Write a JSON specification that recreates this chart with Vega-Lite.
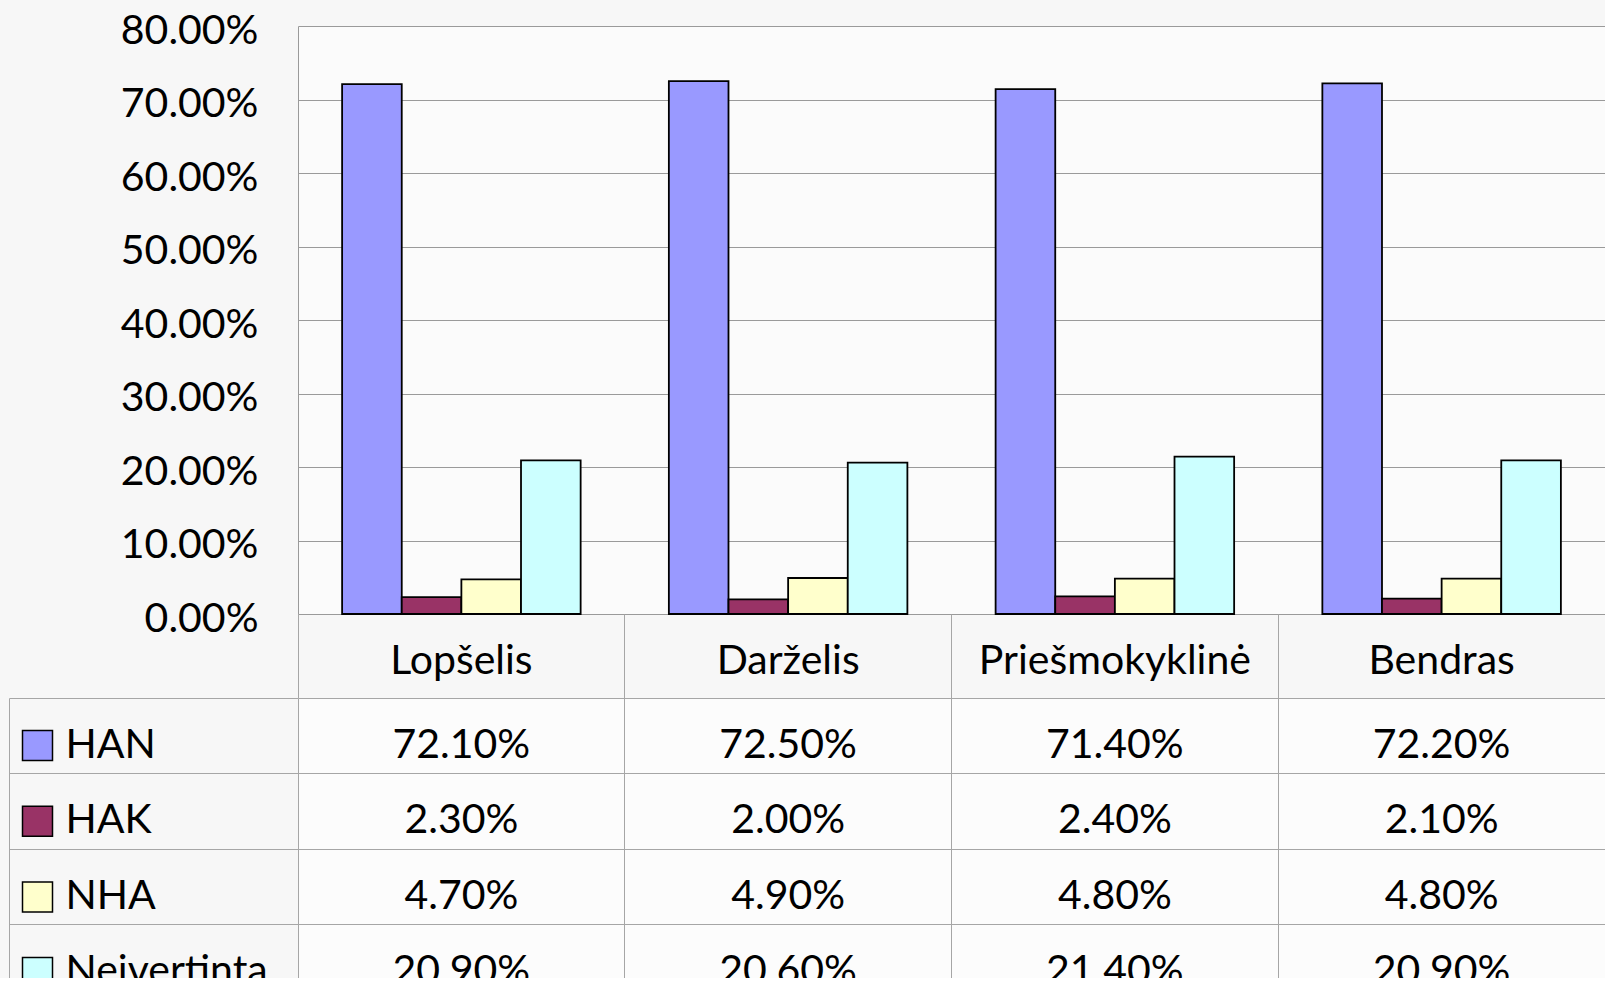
{
  "$schema": "https://vega.github.io/schema/vega-lite/v6.json",
  "background": "#f7f7f7",
  "padding": {"left": 8, "top": 10, "right": 0, "bottom": -22},
  "config": {"font": "Lato", "view": {"stroke": null}, "axis": {"labelFont": "Lato", "labelColor": "#000000"}},
  "datasets": {
    "d": [
      {"cat": "Lopšelis", "series": "HAN", "value": 0.721},
      {"cat": "Lopšelis", "series": "HAK", "value": 0.023},
      {"cat": "Lopšelis", "series": "NHA", "value": 0.047},
      {"cat": "Lopšelis", "series": "Neivertinta", "value": 0.209},
      {"cat": "Darželis", "series": "HAN", "value": 0.725},
      {"cat": "Darželis", "series": "HAK", "value": 0.020},
      {"cat": "Darželis", "series": "NHA", "value": 0.049},
      {"cat": "Darželis", "series": "Neivertinta", "value": 0.206},
      {"cat": "Priešmokyklinė", "series": "HAN", "value": 0.714},
      {"cat": "Priešmokyklinė", "series": "HAK", "value": 0.024},
      {"cat": "Priešmokyklinė", "series": "NHA", "value": 0.048},
      {"cat": "Priešmokyklinė", "series": "Neivertinta", "value": 0.214},
      {"cat": "Bendras", "series": "HAN", "value": 0.722},
      {"cat": "Bendras", "series": "HAK", "value": 0.021},
      {"cat": "Bendras", "series": "NHA", "value": 0.048},
      {"cat": "Bendras", "series": "Neivertinta", "value": 0.209}
    ]
  },
  "bounds": "flush",
  "spacing": 84,
  "resolve": {"scale": {"x": "independent", "y": "independent", "color": "independent"}},
  "vconcat": [
    {
      "data": {"name": "d"},
      "width": 1307,
      "height": 588,
      "view": {"stroke": null, "fill": "#fbfbfb"},
      "mark": {"type": "bar", "stroke": "#000000", "strokeWidth": 1.8},
      "encoding": {
        "x": {
          "field": "cat", "type": "nominal",
          "sort": ["Lopšelis", "Darželis", "Priešmokyklinė", "Bendras"],
          "scale": {"type": "band", "paddingInner": 0.27, "paddingOuter": 0.135},
          "axis": {"title": null, "orient": "bottom", "domain": false, "ticks": true, "bandPosition": -0.18493,
                   "tickSize": 84, "tickColor": "#a6a6a6", "tickWidth": 1, "grid": false,
                   "labelFontSize": 41, "labelAngle": 0, "labelBaseline": "middle", "labelPadding": -37,
                   "labelLimit": 700, "labelColor": "#000000"}
        },
        "xOffset": {"field": "series", "type": "nominal", "sort": ["HAN", "HAK", "NHA", "Neivertinta"]},
        "y": {
          "field": "value", "type": "quantitative",
          "scale": {"domain": [0, 0.8], "nice": false},
          "axis": {"title": null, "values": [0, 0.1, 0.2, 0.3, 0.4, 0.5, 0.6, 0.7, 0.8], "format": ".2%",
                   "labelFontSize": 41, "labelPadding": 40, "ticks": false, "domain": true,
                   "domainColor": "#9a9a9a", "gridColor": "#9a9a9a", "gridWidth": 1, "labelOffset": 5,
                   "labelFlush": false, "labelColor": "#000000"}
        },
        "color": {
          "field": "series", "type": "nominal",
          "scale": {"domain": ["HAN", "HAK", "NHA", "Neivertinta"], "range": ["#9999FF", "#993366", "#FFFFCC", "#CCFFFF"]},
          "legend": {"orient": "none", "legendX": -281, "legendY": 699, "title": null, "symbolType": "square",
                     "symbolSize": 900, "symbolStrokeColor": "#000000", "symbolStrokeWidth": 1.5,
                     "symbolOpacity": 1, "labelExpr": "''", "labelFontSize": 41, "rowPadding": 33.7,
                     "padding": 0, "offset": 0}
        }
      }
    },
    {
      "data": {"name": "d"},
      "width": 1307,
      "height": 302,
      "view": {"stroke": null, "fill": "#fcfcfc"},
      "mark": {"type": "text", "fontSize": 41, "dy": 10, "baseline": "middle", "color": "#000000"},
      "encoding": {
        "x": {
          "field": "cat", "type": "nominal",
          "sort": ["Lopšelis", "Darželis", "Priešmokyklinė", "Bendras"],
          "scale": {"type": "band", "paddingInner": 0, "paddingOuter": 0},
          "axis": {"title": null, "labels": false, "ticks": false, "domain": false, "grid": true,
                   "bandPosition": 0, "gridColor": "#a6a6a6", "gridWidth": 1}
        },
        "y": {
          "field": "series", "type": "nominal",
          "sort": ["HAN", "HAK", "NHA", "Neivertinta"],
          "scale": {"type": "band", "paddingInner": 0, "paddingOuter": 0},
          "axis": {"title": null, "orient": "left", "offset": 289, "domain": true, "domainColor": "#a6a6a6",
                   "ticks": true, "tickSize": -289, "bandPosition": 0, "tickColor": "#a6a6a6", "tickWidth": 1,
                   "grid": true, "gridColor": "#a6a6a6", "gridWidth": 1,
                   "labelAlign": "left", "labelBaseline": "middle", "labelPadding": 233, "labelOffset": 10,
                   "labelFontSize": 41, "labelLimit": 700, "labelColor": "#000000"}
        },
        "text": {"field": "value", "type": "quantitative", "format": ".2%"}
      }
    }
  ]
}
